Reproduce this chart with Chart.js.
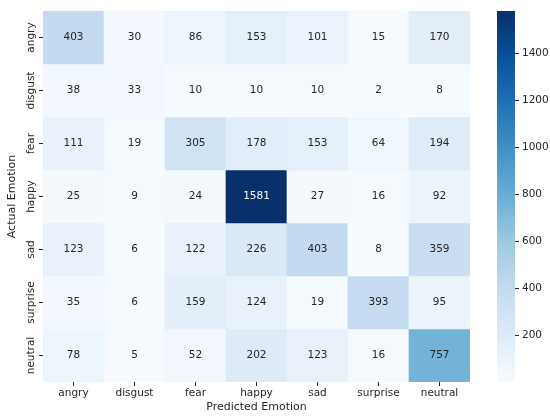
<!DOCTYPE html>
<html>
<head>
<meta charset="utf-8">
<script src="https://cdn.jsdelivr.net/npm/chart.js@4.4.1/dist/chart.umd.min.js"></script>
<style>
  body { margin: 0; background: #fff; }
  #wrap { position: relative; width: 550px; height: 418px; }
  canvas { position: absolute; top: 0; }
</style>
</head>
<body>
<div id="wrap">
  <canvas id="heat" width="550" height="418" style="left:0"></canvas>
  <canvas id="cbar" width="70" height="418" style="left:480px"></canvas>
</div>
<script>
// confusion matrix, rows = actual, columns = predicted
const emotions = ['angry', 'disgust', 'fear', 'happy', 'sad', 'surprise', 'neutral'];
const angry    = [403, 30,  86,  153, 101, 15,  170];
const disgust  = [38,  33,  10,  10,  10,  2,   8];
const fear     = [111, 19,  305, 178, 153, 64,  194];
const happy    = [25,  9,   24,  1581, 27, 16,  92];
const sad      = [123, 6,   122, 226, 403, 8,   359];
const surprise = [35,  6,   159, 124, 19,  393, 95];
const neutral  = [78,  5,   52,  202, 123, 16,  757];
const colorbarTicks = [200, 400, 600, 800, 1000, 1200, 1400];

const matrix = [angry, disgust, fear, happy, sad, surprise, neutral];
const vmin = Math.min(...matrix.flat());
const vmax = Math.max(...matrix.flat());

Chart.defaults.font.family = '"DejaVu Sans", sans-serif';
Chart.defaults.font.size = 10.5;
Chart.defaults.color = '#262626';

// matplotlib "Blues"
const blues = ['#f7fbff', '#deebf7', '#c6dbef', '#9ecae1', '#6baed6', '#4292c6', '#2171b5', '#08519c', '#08306b'];
const bluesRgb = blues.map(h => [1, 3, 5].map(i => parseInt(h.substr(i, 2), 16)));

function cmap(v) {
  let t = (v - vmin) / (vmax - vmin);
  t = Math.max(0, Math.min(1, t)) * (blues.length - 1);
  const i = Math.min(Math.floor(t), blues.length - 2);
  const f = t - i;
  const a = bluesRgb[i], b = bluesRgb[i + 1];
  const c = a.map((x, k) => Math.round(x + (b[k] - x) * f));
  return `rgb(${c[0]},${c[1]},${c[2]})`;
}

const cellText = {
  id: 'cellText',
  afterDatasetsDraw(chart) {
    const { ctx, scales: { x, y } } = chart;
    ctx.save();
    ctx.font = '10.5px "DejaVu Sans", sans-serif';
    ctx.textAlign = 'center';
    ctx.textBaseline = 'middle';
    matrix.forEach((row, r) => {
      row.forEach((v, c) => {
        ctx.fillStyle = v > 1000 ? '#ffffff' : '#262626';
        ctx.fillText(String(v), x.getPixelForValue(c), y.getPixelForValue(r + 0.5));
      });
    });
    // row labels, rotated like seaborn
    ctx.fillStyle = '#262626';
    emotions.forEach((name, r) => {
      ctx.save();
      ctx.translate(31, y.getPixelForValue(r + 0.5));
      ctx.rotate(-Math.PI / 2);
      ctx.fillText(name, 0, 0);
      ctx.restore();
    });
    ctx.restore();
  }
};

new Chart(document.getElementById('heat'), {
  type: 'bar',
  data: {
    labels: emotions,
    datasets: matrix.map((row, r) => ({
      label: emotions[r],
      data: row.map(() => [r, r + 1]),
      backgroundColor: row.map(v => cmap(v)),
      borderWidth: 0,
      barPercentage: 1,
      categoryPercentage: 1,
      grouped: false
    }))
  },
  options: {
    responsive: false,
    animation: false,
    layout: { padding: { top: 11, right: 80, left: 0, bottom: 0 } },
    plugins: { legend: { display: false }, tooltip: { enabled: false } },
    scales: {
      x: {
        offset: true,
        grid: { drawOnChartArea: false, offset: false, tickLength: 4, color: '#262626' },
        border: { display: false },
        ticks: { padding: 1, maxRotation: 0 },
        title: { display: true, text: 'Predicted Emotion', font: { size: 11 }, padding: { top: 0, bottom: 4 } },
        afterFit: s => { s.height = 36; }
      },
      y: {
        min: 0,
        max: 7,
        reverse: true,
        afterBuildTicks: s => { s.ticks = emotions.map((_, i) => ({ value: i + 0.5 })); },
        grid: { drawOnChartArea: false, tickLength: 4, color: '#262626' },
        border: { display: false },
        ticks: { display: false },
        title: { display: true, text: 'Actual Emotion', font: { size: 11 }, padding: { top: 6, bottom: 0 } },
        afterFit: s => { s.width = 43; }
      }
    }
  },
  plugins: [cellText]
});

// colorbar
function barGradient(context) {
  const { chart } = context;
  const area = chart.chartArea;
  if (!area) return blues[4];
  const g = chart.ctx.createLinearGradient(0, area.bottom, 0, area.top);
  blues.forEach((c, i) => g.addColorStop(i / (blues.length - 1), c));
  return g;
}

new Chart(document.getElementById('cbar'), {
  type: 'bar',
  data: {
    labels: [''],
    datasets: [{
      data: [[vmin, vmax]],
      backgroundColor: barGradient,
      borderWidth: 0,
      barPercentage: 1,
      categoryPercentage: 1
    }]
  },
  options: {
    responsive: false,
    animation: false,
    layout: { padding: { left: 17, top: 11, bottom: 36, right: 0 } },
    plugins: { legend: { display: false }, tooltip: { enabled: false } },
    scales: {
      x: { display: false },
      y: {
        position: 'right',
        min: vmin,
        max: vmax,
        afterBuildTicks: s => { s.ticks = colorbarTicks.map(v => ({ value: v })); },
        grid: { drawOnChartArea: false, tickLength: 4, color: '#262626' },
        border: { display: false },
        ticks: { padding: 3, callback: v => String(v) },
        afterFit: s => { s.width = 35; }
      }
    }
  }
});
</script>
</body>
</html>
